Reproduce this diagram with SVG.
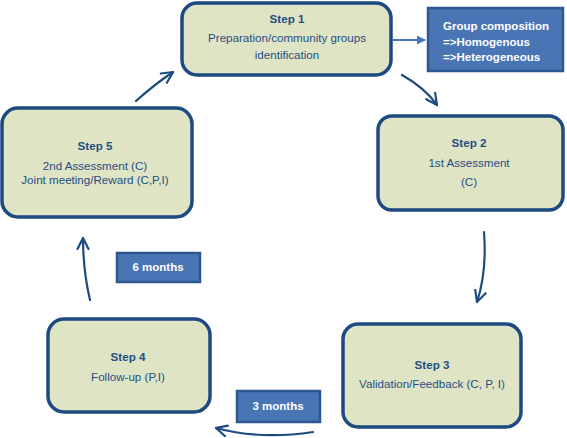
<svg xmlns="http://www.w3.org/2000/svg" width="567" height="438" viewBox="0 0 567 438">
<style>
.step{fill:#dfe4c4;stroke:#1d4a80;stroke-width:3.5}
.tag{fill:#4a75b5;stroke:#2e5790;stroke-width:2.5}
.t{font-family:"Liberation Sans",Arial,sans-serif;font-size:11.6px;fill:#1f4e85;text-anchor:middle}
.b{font-weight:bold}
.w{font-family:"Liberation Sans",Arial,sans-serif;font-size:11.5px;fill:#ffffff;font-weight:bold}
.c{fill:none;stroke:#1d4a80;stroke-width:2.2;stroke-linecap:round}
</style>
<defs>
<marker id="ah" viewBox="0 0 12 12" refX="11" refY="6" markerWidth="6" markerHeight="6" orient="auto" markerUnits="strokeWidth">
<path d="M1,1 L11,6 L1,11" fill="none" stroke="#1d4a80" stroke-width="2" stroke-linecap="round"/>
</marker>
<marker id="tri" viewBox="0 0 10 10" refX="9" refY="5" markerWidth="4.5" markerHeight="4.5" orient="auto" markerUnits="strokeWidth">
<path d="M0,0 L10,5 L0,10 z" fill="#4a75b5"/>
</marker>
</defs>
<g id="connectors">
<line x1="393" y1="40" x2="425" y2="40" stroke="#4a75b5" stroke-width="2" marker-end="url(#tri)"/>
<path class="c" d="M402,75 Q425,88 437,105" marker-end="url(#ah)"/>
<path class="c" d="M484,232 Q487,272 477,302" marker-end="url(#ah)"/>
<path class="c" d="M313,432 Q260,440 216,428" marker-end="url(#ah)"/>
<path class="c" d="M90,300 Q83,270 83,238" marker-end="url(#ah)"/>
<path class="c" d="M136,101 Q155,84 173,72" marker-end="url(#ah)"/>
</g>
<g id="step1">
<rect class="step" x="182" y="3" width="209" height="72" rx="15"/>
<text class="t b" x="287" y="23">Step 1</text>
<text class="t" x="287" y="42">Preparation/community groups</text>
<text class="t" x="287" y="59">identification</text>
</g>
<g id="group-composition">
<rect class="tag" x="428" y="8" width="135" height="63"/>
<text class="w" x="443" y="30">Group composition</text>
<text class="w" x="443" y="46">=&gt;Homogenous</text>
<text class="w" x="443" y="61">=&gt;Heterogeneous</text>
</g>
<g id="step2">
<rect class="step" x="378" y="116" width="185" height="94" rx="14"/>
<text class="t b" x="469" y="147">Step 2</text>
<text class="t" x="469" y="167">1st Assessment</text>
<text class="t" x="469" y="186">(C)</text>
</g>
<g id="step3">
<rect class="step" x="343" y="324" width="178" height="103" rx="15"/>
<text class="t b" x="432" y="369">Step 3</text>
<text class="t" x="432" y="388">Validation/Feedback (C, P, I)</text>
</g>
<g id="step4">
<rect class="step" x="48" y="319" width="162" height="93" rx="16"/>
<text class="t b" x="128" y="361">Step 4</text>
<text class="t" x="128" y="381">Follow-up (P,I)</text>
</g>
<g id="step5">
<rect class="step" x="2" y="108" width="190" height="109" rx="16"/>
<text class="t b" x="95" y="150">Step 5</text>
<text class="t" x="95" y="170">2nd Assessment (C)</text>
<text class="t" x="95" y="184">Joint meeting/Reward  (C,P,I)</text>
</g>
<g id="six-months">
<rect class="tag" x="117" y="253" width="83" height="29"/>
<text class="w" x="158" y="271" text-anchor="middle">6 months</text>
</g>
<g id="three-months">
<rect class="tag" x="237" y="391" width="83" height="31"/>
<text class="w" x="278" y="410" text-anchor="middle">3 months</text>
</g>
</svg>
